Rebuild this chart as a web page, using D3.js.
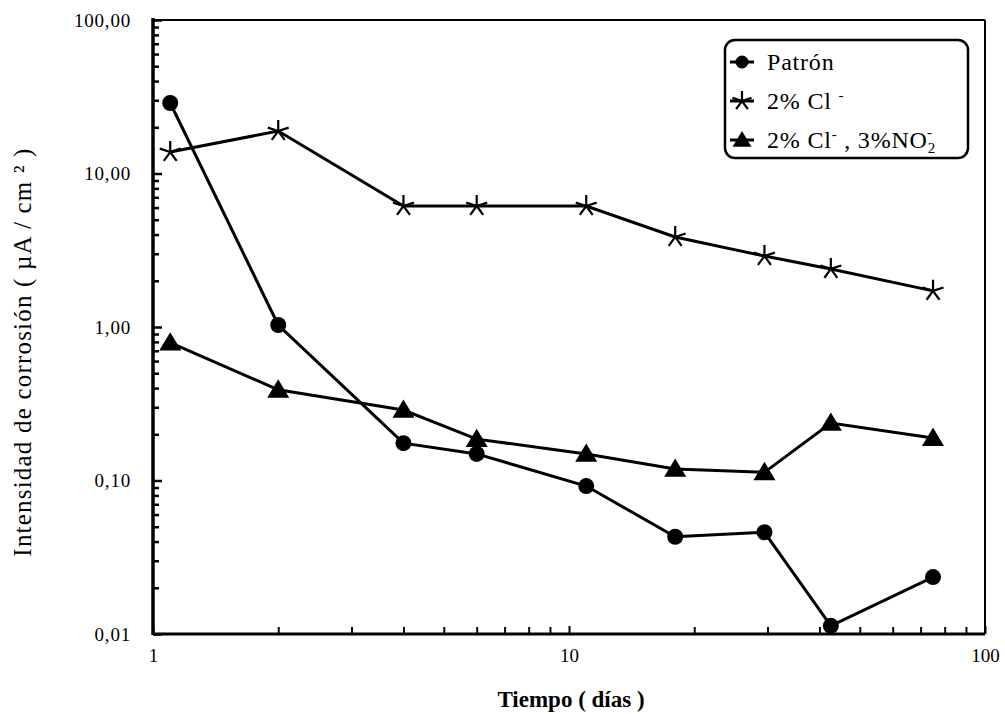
<!DOCTYPE html>
<html>
<head>
<meta charset="utf-8">
<script src="https://cdn.jsdelivr.net/npm/d3@7"></script>
<style>
    body { margin: 0; background: #fff; }
</style>
</head>
<body>
<div id="chart"></div>
<script>
// Corrosion current vs time, log-log

const days = [1.1, 2, 4, 6, 11, 18, 29.5, 42.6, 75];
const patron = [28.8, 1.03, 0.175, 0.149, 0.092, 0.043, 0.046, 0.0113, 0.0235];
const cl2 = [13.8, 18.9, 6.14, 6.14, 6.14, 3.86, 2.90, 2.39, 1.72];
const clNo2 = [0.79, 0.39, 0.288, 0.186, 0.149, 0.119, 0.113, 0.237, 0.189];

const yTickValues = [0.01, 0.1, 1, 10, 100];
const yTickLabels = ["0,01", "0,10", "1,00", "10,00", "100,00"];
const xTickValues = [1, 10, 100];
const xTickLabels = ["1", "10", "100"];

const W = 1005, H = 714;
const plotLeft = 153, plotRight = 985, plotTop = 20, plotBottom = 634;
const serif = "'Liberation Serif', 'Times New Roman', 'DejaVu Serif', serif";

const svg = d3.select("#chart").append("svg")
    .attr("width", W)
    .attr("height", H)
    .attr("font-family", serif);

const x = d3.scaleLog().domain([1, 100]).range([plotLeft, plotRight]);
const y = d3.scaleLog().domain([0.01, 100]).range([plotBottom, plotTop]);

// minor tick values (2..9 in every decade)
const minorX = [], minorY = [];
[1, 10].forEach(d => { for (let k = 2; k <= 9; k++) minorX.push(d * k); });
[0.01, 0.1, 1, 10].forEach(d => { for (let k = 2; k <= 9; k++) minorY.push(d * k); });

// Frame (top and right)
svg.append("line")
    .attr("x1", plotLeft).attr("x2", plotRight).attr("y1", plotTop).attr("y2", plotTop)
    .attr("stroke", "#000").attr("stroke-width", 2);
svg.append("line")
    .attr("x1", plotRight).attr("x2", plotRight).attr("y1", plotTop).attr("y2", plotBottom)
    .attr("stroke", "#000").attr("stroke-width", 2);

// Y axis: major ticks + labels, minor ticks, pointing inside
const yMajor = svg.append("g")
    .attr("transform", `translate(${plotLeft},0)`)
    .call(d3.axisLeft(y).tickValues(yTickValues)
        .tickFormat((d, i) => yTickLabels[i])
        .tickSizeInner(-9).tickSizeOuter(0).tickPadding(22))
    .attr("font-family", serif)
    .attr("font-size", 19);
yMajor.select(".domain").remove();
yMajor.selectAll("line").attr("stroke-width", 2.5);
yMajor.selectAll("text").attr("letter-spacing", 0.8);

const yMinor = svg.append("g")
    .attr("transform", `translate(${plotLeft},0)`)
    .call(d3.axisLeft(y).tickValues(minorY).tickFormat("")
        .tickSizeInner(-6).tickSizeOuter(0));
yMinor.select(".domain").remove();
yMinor.selectAll("line").attr("stroke-width", 2.5);

// X axis: ticks pointing up
const xMajor = svg.append("g")
    .attr("transform", `translate(0,${plotBottom})`)
    .call(d3.axisBottom(x).tickValues(xTickValues)
        .tickFormat((d, i) => xTickLabels[i])
        .tickSizeInner(-8).tickSizeOuter(0).tickPadding(15))
    .attr("font-family", serif)
    .attr("font-size", 19);
xMajor.select(".domain").remove();
xMajor.selectAll("line").attr("stroke-width", 2);

const xMinor = svg.append("g")
    .attr("transform", `translate(0,${plotBottom})`)
    .call(d3.axisBottom(x).tickValues(minorX).tickFormat("")
        .tickSizeInner(-7).tickSizeOuter(0));
xMinor.select(".domain").remove();
xMinor.selectAll("line").attr("stroke-width", 2);

// Axis lines
svg.append("line")
    .attr("x1", plotLeft).attr("x2", plotLeft).attr("y1", plotTop - 2).attr("y2", plotBottom + 1)
    .attr("stroke", "#000").attr("stroke-width", 3.5);
svg.append("line")
    .attr("x1", plotLeft).attr("x2", plotRight).attr("y1", plotBottom).attr("y2", plotBottom)
    .attr("stroke", "#000").attr("stroke-width", 3);

// Series
const line = d3.line()
    .x(d => x(d[0]))
    .y(d => y(d[1]));

function drawLine(values) {
    svg.append("path")
        .datum(days.map((d, i) => [d, values[i]]))
        .attr("fill", "none")
        .attr("stroke", "#000")
        .attr("stroke-width", 3)
        .attr("d", line);
}

const starPath = (cx, cy, r) => {
    let p = "";
    for (let k = 0; k < 5; k++) {
        const a = -Math.PI / 2 + k * 2 * Math.PI / 5;
        p += `M${cx},${cy}L${cx + r * Math.cos(a)},${cy + r * Math.sin(a)}`;
    }
    return p;
};
const triPath = (cx, cy, s) =>
    `M${cx},${cy - s}L${cx + s * 1.05},${cy + s * 0.75}L${cx - s * 1.05},${cy + s * 0.75}Z`;

function drawCircles(values) {
    svg.selectAll(null)
        .data(days.map((d, i) => [d, values[i]]))
        .enter().append("circle")
        .attr("cx", d => x(d[0]))
        .attr("cy", d => y(d[1]))
        .attr("r", 8)
        .attr("fill", "#000");
}
function drawStars(values) {
    svg.selectAll(null)
        .data(days.map((d, i) => [d, values[i]]))
        .enter().append("path")
        .attr("d", d => starPath(x(d[0]), y(d[1]), 11))
        .attr("stroke", "#000")
        .attr("stroke-width", 2.2)
        .attr("fill", "none");
}
function drawTriangles(values) {
    svg.selectAll(null)
        .data(days.map((d, i) => [d, values[i]]))
        .enter().append("path")
        .attr("d", d => triPath(x(d[0]), y(d[1]), 10.5))
        .attr("fill", "#000");
}

drawLine(cl2);
drawLine(clNo2);
drawLine(patron);
drawStars(cl2);
drawTriangles(clNo2);
drawCircles(patron);

// Legend
const lg = svg.append("g");
lg.append("rect")
    .attr("x", 725).attr("y", 40)
    .attr("width", 243).attr("height", 118)
    .attr("rx", 10).attr("ry", 10)
    .attr("fill", "#fff")
    .attr("stroke", "#000")
    .attr("stroke-width", 2.5);

const legendRows = [62, 101, 140];
const mx = 742;
legendRows.forEach(ry => {
    lg.append("line")
        .attr("x1", mx - 12).attr("x2", mx + 12)
        .attr("y1", ry).attr("y2", ry)
        .attr("stroke", "#000").attr("stroke-width", 3);
});
lg.append("circle").attr("cx", mx).attr("cy", legendRows[0]).attr("r", 6.5).attr("fill", "#000");
lg.append("path").attr("d", starPath(mx, legendRows[1], 10))
    .attr("stroke", "#000").attr("stroke-width", 2.2).attr("fill", "none");
lg.append("path").attr("d", triPath(mx, legendRows[2], 9)).attr("fill", "#000");

const tx = 767;
lg.append("text").attr("x", tx).attr("y", legendRows[0] + 8)
    .attr("font-size", 24).attr("letter-spacing", 0.8).text("Patrón");

const t2 = lg.append("text").attr("x", tx).attr("y", legendRows[1] + 8)
    .attr("font-size", 24).attr("letter-spacing", 0.8);
t2.append("tspan").text("2%  Cl ");
t2.append("tspan").attr("dy", -9).attr("font-size", 15).text("-");

const t3 = lg.append("text").attr("x", tx).attr("y", legendRows[2] + 8)
    .attr("font-size", 24).attr("letter-spacing", 0.8);
t3.append("tspan").text("2% Cl");
t3.append("tspan").attr("dy", -9).attr("font-size", 15).text("-");
t3.append("tspan").attr("dy", 9).text("  , 3%NO");
t3.append("tspan").attr("dy", 5).attr("font-size", 15).text("2");
t3.append("tspan").attr("dx", -9).attr("dy", -16).attr("font-size", 15).text("-");

// Axis titles
svg.append("text")
    .attr("x", 571).attr("y", 707)
    .attr("text-anchor", "middle")
    .attr("font-size", 23)
    .attr("font-weight", "bold")
    .text("Tiempo ( días )");

svg.append("text")
    .attr("transform", "translate(31,352) rotate(-90)")
    .attr("text-anchor", "middle")
    .attr("font-size", 25)
    .attr("letter-spacing", 1.2)
    .text("Intensidad de corrosión ( µA / cm ² )");
</script>
</body>
</html>
